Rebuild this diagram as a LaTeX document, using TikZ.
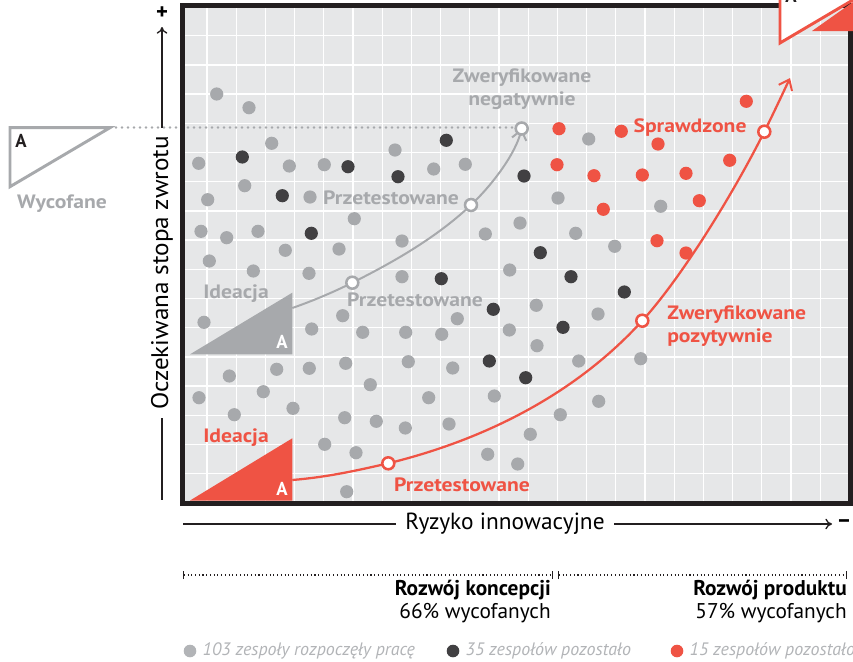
\documentclass[tikz,border=0pt]{standalone}
\usepackage{fontspec}
\setmainfont{PT Sans}
\newfontfamily\labelfont[FakeStretch=1.12]{PT Sans}
\newfontfamily\widefont[FakeStretch=1.05]{PT Sans}
\usepackage{tikz}
\usetikzlibrary{arrows.meta}
\definecolor{bggray}{RGB}{230,231,232}
\definecolor{dotgray}{RGB}{167,169,172}
\definecolor{leggray}{RGB}{178,180,183}
\definecolor{dotdark}{RGB}{65,64,66}
\definecolor{tred}{RGB}{239,83,68}
\definecolor{framec}{RGB}{35,31,32}

\begin{document}
\begin{tikzpicture}[x=0.75pt,y=-0.75pt,
  glabel/.style={text=dotgray,font=\labelfont\bfseries\fontsize{14.5}{17.3}\selectfont,inner sep=0pt},
  rlabel/.style={text=tred,font=\labelfont\bfseries\fontsize{14.5}{17.3}\selectfont,inner sep=0pt},
  letterA/.style={font=\bfseries\fontsize{14}{16}\selectfont,inner sep=0pt},
  gopen/.style={circle,draw=dotgray,fill=white,line width=1.9pt,minimum size=9pt,inner sep=0pt},
  ropen/.style={circle,draw=tred,fill=white,line width=1.9pt,minimum size=9pt,inner sep=0pt},
  barb/.style={-{Straight Barb[length=7pt,width=11pt,line width=1.5pt]}},
  legtext/.style={anchor=west,text=leggray,font=\itshape\fontsize{13.5}{16}\selectfont}]
\useasboundingbox (0,0) rectangle (853,661);
\clip (0,0) rectangle (853,661);
%\draw[step=0.5cm,lightgray,very thin] (0,0) grid (853,661);

% plot area
\fill[bggray] (182,6) rectangle (850,503);
\foreach \i in {0,...,21}
  \draw[white,line width=1pt] ({207+29.2*\i},6) -- ({207+29.2*\i},503);
\foreach \j in {0,...,15}
  \draw[white,line width=1pt] (182,{35.7+29.2*\j}) -- (850,{35.7+29.2*\j});

\draw[dotgray,line width=1.9pt,line cap=round,dash pattern=on 0pt off 4.5pt] (110,127.5) -- (516,127.5);

% teams
\foreach \x/\y in {216.7/94, 249/107.7, 271.7/143.3, 198.7/163.3, 289.3/166, 324.3/164.7, 395/150,
  244.7/185.7, 310/197, 207.7/199.7, 354.3/218.7, 201/231.3, 226.7/237.7, 258/231.3, 285.3/250.3,
  339/249, 209.3/261, 253.3/271, 309/273.3, 402/241, 402/276.7, 433.7/169, 465.3/164.3, 588.7/139,
  558/198, 520/223, 485.3/234, 575.7/233.3, 509.7/270, 660.7/206.3, 614.7/246.3, 204/322.3,
  342.7/315.7, 457.3/318.7, 311.7/329, 362.7/332.3, 405.7/332.3, 441.7/334.3, 509.3/330, 229.3/376,
  276.7/369.3, 309.3/368.3, 345.7/363.3, 408.3/361.7, 452.7/368, 199/397.7, 263.3/391.7, 293/408.3,
  370.3/384.7, 428.7/397.7, 494.3/396, 234.3/414.7, 344.7/417.7, 376.3/421.3, 405.3/428, 449/424,
  324.7/444.3, 356/452.7, 487.7/454.3, 346.7/491.7, 536.3/305.3, 598/314, 537/345.7, 578.7/361,
  640.7/358.7, 598.7/401.3, 560.3/414.7, 530.3/434.3, 517.7/464}
  \fill[dotgray] (\x,\y) circle[radius=6.6];
\foreach \x/\y in {242.3/157, 348/166.7, 398/176.7, 282.3/195.7, 311.3/233.3, 446.3/140.3, 524/176,
  540.3/252.7, 441.3/278.7, 571/276.7, 493.3/309.3, 489.3/361, 624.3/292, 563/327.3, 525.7/377.7}
  \fill[dotdark] (\x,\y) circle[radius=6.6];
\foreach \x/\y in {559/128.7, 621.3/131.3, 658/144, 746.3/101.3, 557/164.7, 594/175.7, 642.3/175,
  686/173.3, 729.7/160.3, 603.3/209.3, 699.3/200.7, 657/240.7, 686/253}
  \fill[tred] (\x,\y) circle[radius=6.6];

% ideation triangles
\fill[dotgray] (190,354.3) -- (292.3,292.7) -- (292.3,354.3) -- cycle;
\node[letterA,white] (ga) at (282,342) {A};
\fill[tred] (190,500.5) -- (292.3,438.3) -- (292.3,500.5) -- cycle;
\node[letterA,white] (ra) at (282,489) {A};

% paths
\coordinate (g0) at (292.3,308);
\coordinate (g1) at (352.3,282.7);
\coordinate (g2) at (471,205);
\coordinate (g3) at (521.7,128.5);
\draw[dotgray,line width=1.5pt,barb] (g0) .. controls +(20,-7) and +(-20,10) .. (g1)
  .. controls +(40,-20) and +(-35,33) .. (g2)
  .. controls +(22,-21) and +(-6,25) .. (g3);
\node[gopen] (gtest) at (g1) {};
\node[gopen] (gtest2) at (g2) {};
\node[gopen] (gneg) at (g3) {};

\coordinate (r0) at (292.3,480);
\coordinate (r1) at (388.3,463.3);
\coordinate (r2) at (642.3,320.7);
\coordinate (r3) at (764.3,131.7);
\coordinate (r4) at (790,78);
\draw[tred,line width=1.7pt,barb] (r0) .. controls +(35,-3) and +(-35,8) .. (r1)
  .. controls +(90,-22) and +(-70,77) .. (r2)
  .. controls +(40,-44) and +(-30,60) .. (r3)
  .. controls +(9,-18) and +(-8,17) .. (r4);
\node[ropen] (rtest) at (r1) {};
\node[ropen] (rpoz) at (r2) {};
\node[ropen] (rspr) at (r3) {};

% labels
\node[glabel,align=center] (gneglab) at (522,89) {Zweryfikowane\\negatywnie};
\node[glabel] (gtestlab) at (391,198) {Przetestowane};
\node[glabel] (gtestlab2) at (415,300) {Przetestowane};
\node[glabel] (gidlab) at (236,294) {Ideacja};
\node[rlabel] (rsprlab) at (690,128) {Sprawdzone};
\node[rlabel,anchor=west,align=left] (rpozlab) at (667,326) {Zweryfikowane\\pozytywnie};
\node[rlabel] (rtestlab) at (462,485) {Przetestowane};
\node[rlabel] (ridlab) at (236,438) {Ideacja};

% frame
\draw[framec,line width=3.75pt] (182,5.7) rectangle (850,503);

% dropped / verified
\filldraw[fill=white,draw=dotgray,line width=2.2pt] (10,127.7) -- (110,127.7) -- (10,186.7) -- cycle;
\node[letterA,text=framec] (wa) at (21,141) {A};
\node[glabel] (wyclab) at (62,204) {Wycofane};
\fill[tred] (812,31) -- (853,31) -- (853,2) -- cycle;
\filldraw[fill=white,draw=tred,line width=2.2pt] (780,-16) -- (880,-16) -- (780,43) -- cycle;
\node[letterA,text=framec] (sa) at (791,-4) {A};

% axes
\node[rotate=90,font=\widefont\fontsize{18}{21}\selectfont,inner sep=6pt] (ylab) at (162,273) {Oczekiwana stopa zwrotu};
\coordinate (ybot) at (162,500);
\coordinate (ytop) at (162,27);
\draw[framec,line width=1pt] (ylab.west) -- (ybot);
\draw[framec,line width=1pt,-{To[length=5pt,width=8pt]}] (ylab.east) -- (ytop);
\node[font=\bfseries\fontsize{17}{19}\selectfont,inner sep=0pt] (yplus) at (162,13) {+};

\node[font=\fontsize{17.5}{20}\selectfont,inner sep=7pt] (xlab) at (505,524) {Ryzyko innowacyjne};
\coordinate (xleft) at (183,524);
\coordinate (xright) at (832,524);
\draw[framec,line width=1pt] (xlab.west) -- (xleft);
\draw[framec,line width=1pt,-{To[length=5pt,width=8pt]}] (xlab.east) -- (xright);
\node[font=\bfseries\fontsize{17}{19}\selectfont,inner sep=0pt] (xminus) at (844,524) {–};

% stages
\coordinate (c0) at (183,575);
\coordinate (c1) at (553,575);
\coordinate (p0) at (558,575);
\coordinate (p1) at (847,575);
\draw[framec,line width=0.8pt,dotted,{Bar[width=6pt]}-{Bar[width=6pt]}] (c0) -- (c1);
\draw[framec,line width=0.8pt,dotted,{Bar[width=6pt]}-{Bar[width=6pt]}] (p0) -- (p1);
\node[anchor=north east,align=right,font=\fontsize{16}{17.3}\selectfont,inner sep=0pt] (conc) at (551,580) {\textbf{Rozwój koncepcji}\\66\% wycofanych};
\node[anchor=north east,align=right,font=\fontsize{16}{17.3}\selectfont,inner sep=0pt] (prod) at (847,580) {\textbf{Rozwój produktu}\\57\% wycofanych};

% legend
\fill[leggray] (190,651) circle[radius=6.3];
\node[legtext] (leg1) at (198,651) {103 zespoły rozpoczęły pracę};
\fill[dotdark] (453,651) circle[radius=6.3];
\node[legtext] (leg2) at (461,651) {35 zespołów pozostało};
\fill[tred] (677,651) circle[radius=6.3];
\node[legtext] (leg3) at (685,651) {15 zespołów pozostało};
\end{tikzpicture}
\end{document}
